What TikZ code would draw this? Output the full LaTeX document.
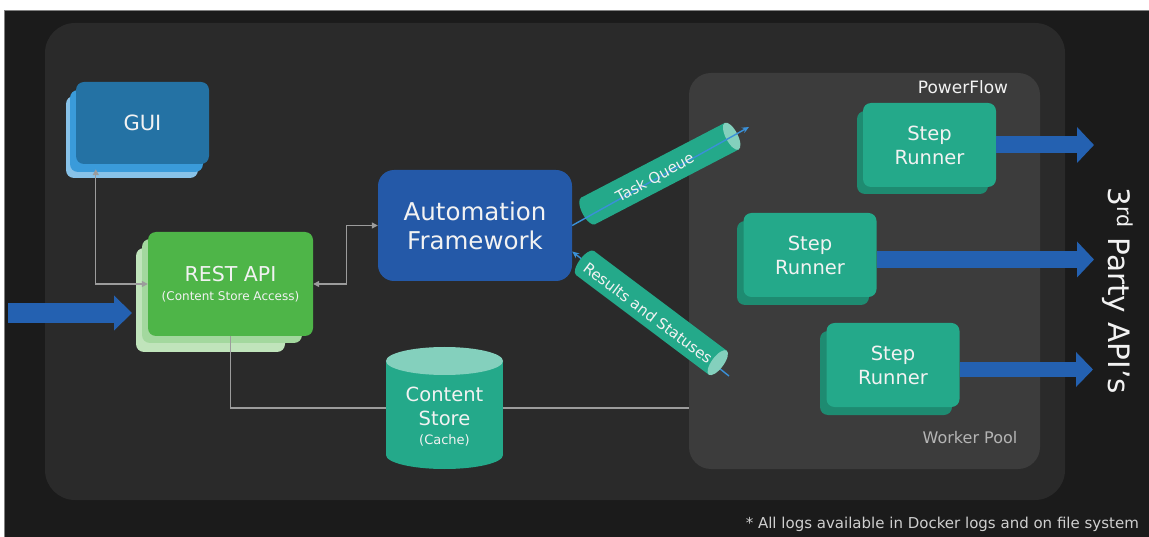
\documentclass[tikz,border=0pt]{standalone}
\usepackage{fontspec}
\setmainfont{DejaVu Sans}
\usetikzlibrary{arrows.meta,calc}
\definecolor{bgdark}{HTML}{1B1B1B}
\definecolor{panelA}{HTML}{2A2A2A}
\definecolor{panelB}{HTML}{3C3C3C}
\definecolor{guiFront}{HTML}{2472A4}
\definecolor{guiMid}{HTML}{3A9BDA}
\definecolor{guiLight}{HTML}{88C2E8}
\definecolor{restFront}{HTML}{4EB548}
\definecolor{restMid}{HTML}{A3D89E}
\definecolor{restLight}{HTML}{C0E4BB}
\definecolor{autoBlue}{HTML}{2459A8}
\definecolor{tubeTeal}{HTML}{24A98A}
\definecolor{tealDark}{HTML}{1E8B71}
\definecolor{tealLight}{HTML}{84D0BD}
\definecolor{bigBlue}{HTML}{2461B1}
\definecolor{thinBlue}{HTML}{3A90D8}
\definecolor{connGrey}{HTML}{9C9C9C}
\definecolor{txtW}{HTML}{F2F2F2}
\definecolor{txtGrey}{HTML}{B4B4B4}
\definecolor{noteGrey}{HTML}{CFCFCF}
\begin{document}
\begin{tikzpicture}[x=1pt,y=-1pt,
  box/.style={rounded corners=8pt, inner sep=0pt, text=txtW, align=center},
  backlayer/.style={rounded corners=8pt},
  srbox/.style={box, fill=tubeTeal, minimum width=133pt, minimum height=84pt, font=\fontsize{19.5}{24}\selectfont},
  conn/.style={draw=connGrey, line width=1.3pt, {Triangle[length=6pt,width=6pt]}-{Triangle[length=6pt,width=6pt]}},
  plainline/.style={draw=connGrey, line width=1.3pt},
  bigarrow/.style={draw=bigBlue, line width=17pt, -{Triangle[length=17pt,width=35pt]}},
  thinarrow/.style={draw=thinBlue, line width=1.4pt, -{Stealth[length=7pt,width=6pt]}},
  tubetext/.style={text=txtW, font=\fontsize{15}{18}\selectfont, inner sep=1pt}
]
\useasboundingbox (0,0) rectangle (1149,537);
\fill[white] (0,0) rectangle (1149,537);
\fill[bgdark] (4,10) rectangle (1149,537);
\draw[gray, line width=0.8pt] (4,537) -- (4,10) -- (1149,10);
% main panel
\fill[panelA, rounded corners=30pt] (45,23) rectangle (1065,500);
% powerflow panel
\node[fill=panelB, rounded corners=22pt, minimum width=351pt, minimum height=396pt, inner sep=0pt] (pf) at (864.5,271) {};
\node[text=txtW, font=\fontsize{17}{20}\selectfont] (pflabel) at (963,87) {PowerFlow};
\node[text=txtGrey, font=\fontsize{16}{19}\selectfont] (wplabel) at (970,438) {Worker Pool};

% GUI layers
\fill[backlayer, guiLight] (66,96) rectangle (198,178);
\fill[backlayer, guiMid] (70,90) rectangle (203,172);
\node[box, fill=guiFront, minimum width=133pt, minimum height=82pt, font=\fontsize{21}{24}\selectfont] (gui) at (142.5,123) {GUI};

% REST layers
\fill[backlayer, restLight] (136,248) rectangle (285,352);
\fill[backlayer, restMid] (142,239) rectangle (302,343);
\node[box, fill=restFront, minimum width=165pt, minimum height=104pt, font=\fontsize{20.5}{22}\selectfont] (rest) at (230.5,284) {REST API\\[-3pt]{\fontsize{12}{14}\selectfont (Content Store Access)}};

% Automation
\node[box, fill=autoBlue, rounded corners=16pt, minimum width=194pt, minimum height=111pt, font=\fontsize{24.5}{29}\selectfont] (auto) at (475,225.5) {Automation\\Framework};

% Content store cylinder
\fill[tubeTeal] (386,361) rectangle (503,455);
\fill[tubeTeal] (444.5,455) ellipse [x radius=58.5, y radius=14];
\fill[tealLight] (444.5,361) ellipse [x radius=58.5, y radius=14];
\node[inner sep=0pt, minimum width=117pt, minimum height=122pt] (cs) at (444.5,408) {};
\node[text=txtW, align=center, font=\fontsize{19.5}{24}\selectfont, inner sep=0pt] (cslabel) at (444.5,417) {Content\\Store\\[-5pt]{\fontsize{13}{15}\selectfont (Cache)}};

% Step runners
\fill[backlayer, tealDark] (857,111) rectangle (988,194);
\node[srbox] (sr1) at (929.5,145) {Step\\Runner};
\fill[backlayer, tealDark] (737,221) rectangle (869,305);
\node[srbox] (sr2) at (810,255) {Step\\Runner};
\fill[backlayer, tealDark] (820,331) rectangle (952,415);
\node[srbox] (sr3) at (893,365) {Step\\Runner};

% grey connectors
\draw[conn] ($(gui.south west)+(20,5)$) |- (rest.west);
\draw[conn] (rest.east) -- ++(33,0) |- (auto.west);
\draw[plainline] (rest.south) |- (cs.west);
\draw[plainline] (cs.east) -- (cs.east -| pf.west);

% input arrow
\coordinate (inA) at (8,313);
\coordinate (inB) at (132,313);
\draw[bigarrow, line width=20pt, -{Triangle[length=18pt,width=34pt]}] (inA) -- (inB);

% output arrows
\coordinate (o1) at (1094,145);
\coordinate (o2) at (1094,259.5);
\coordinate (o3) at (1093,369.5);
\draw[bigarrow] (sr1.east |- o1) -- (o1);
\draw[bigarrow] (sr2.east |- o2) -- (o2);
\draw[bigarrow, line width=15pt, -{Triangle[length=17pt,width=34pt]}] (sr3.east |- o3) -- (o3);

% results arrow (under its tube)
\coordinate (rsStart) at (729,376);
\draw[thinarrow] (rsStart) -- ($(auto.east)+(0,26)$);

% Task Queue tube
\begin{scope}[shift={(588,211)}, rotate=27.5]
  \fill[tubeTeal] (0,-15) rectangle (162,15);
  \fill[tubeTeal] (0,0) ellipse [x radius=6, y radius=15];
  \fill[tealLight] (162,0) ellipse [x radius=6, y radius=15];
\end{scope}
% Results tube
\begin{scope}[shift={(585,263)}, rotate=-36.9]
  \fill[tubeTeal] (0,-15) rectangle (166,15);
  \fill[tubeTeal] (0,0) ellipse [x radius=6, y radius=15];
  \fill[tealLight] (166,0) ellipse [x radius=6, y radius=15];
\end{scope}

\coordinate (tqEnd) at (749,127);
\draw[thinarrow] (auto.east) -- (tqEnd);

\node[tubetext, rotate=28.5] (tqlabel) at (655,178) {Task Queue};
\node[tubetext, rotate=-37] (rslabel) at (648,313) {Results and Statuses};

% right label
\node[text=txtW, rotate=-90, font=\fontsize{29.5}{32}\selectfont, inner sep=0pt] (third) at (1118,291) {3\textsuperscript{rd} Party API’s};

% footnote
\node[text=noteGrey, font=\fontsize{15}{18}\selectfont, anchor=base east, inner sep=0pt] (note) at (1139,528) {* All logs available in Docker logs and on file system};
\end{tikzpicture}
\end{document}
